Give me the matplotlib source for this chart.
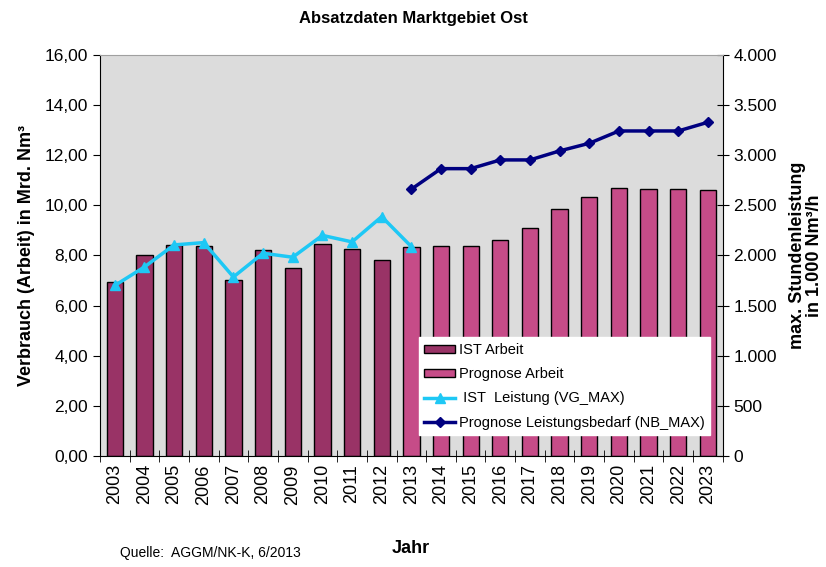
import numpy as np
import matplotlib.pyplot as plt
from matplotlib.ticker import FuncFormatter

plt.rcParams['font.family'] = ['Liberation Sans', 'DejaVu Sans']

years = [str(y) for y in range(2003, 2024)]
ist_arbeit = [6.92, 8.00, 8.43, 8.38, 7.02, 8.22, 7.48, 8.46, 8.27, 7.80]
prognose_arbeit = [8.34, 8.36, 8.36, 8.62, 9.10, 9.84, 10.35, 10.71, 10.67, 10.67, 10.63]
ist_leistung = [1700, 1885, 2105, 2128, 1785, 2022, 1982, 2200, 2135, 2387, 2088]
prognose_leistung = [2661, 2866, 2866, 2953, 2953, 3043, 3119, 3242, 3242, 3242, 3329]

x = np.arange(len(years))
x_ist = x[:len(ist_arbeit)]
x_prog = x[len(ist_arbeit):]
x_ist_l = x[:len(ist_leistung)]
x_prog_l = x[len(x) - len(prognose_leistung):]

fig = plt.figure(figsize=(8.26, 5.67), dpi=100)
ax = fig.add_axes([0.121, 0.196, 0.754, 0.707])
ax.set_facecolor('#DCDCDC')

b1 = ax.bar(x_ist, ist_arbeit, width=0.55, color='#993366', edgecolor='black', linewidth=1, zorder=2)
b2 = ax.bar(x_prog, prognose_arbeit, width=0.55, color='#C64C88', edgecolor='black', linewidth=1, zorder=2)
ax.set_ylim(0, 16)
ax.set_xlim(-0.5, len(years) - 0.5)
ax.set_yticks(np.arange(0, 17, 2))
ax.yaxis.set_major_formatter(FuncFormatter(lambda v, p: f"{v:.2f}".replace('.', ',')))
ax.set_xticks(x)
ax.set_xticklabels(years, rotation=90, fontsize=13)
ax.set_xticks(np.arange(-0.5, len(years), 1), minor=True)
ax.tick_params(axis='x', which='major', length=0, pad=6)
ax.tick_params(axis='x', which='minor', length=8, direction='inout')
ax.tick_params(axis='y', labelsize=12.5, length=5, direction='out')
ax.set_ylabel('Verbrauch (Arbeit) in Mrd. Nm³', fontsize=13, fontweight='bold', labelpad=7)
for s in ['top', 'right']:
    ax.spines[s].set_visible(False)

ax2 = ax.twinx()
l1, = ax2.plot(x_ist_l, ist_leistung, color='#1EC8F5', linewidth=2.5, marker='^', markersize=7, zorder=3)
l2, = ax2.plot(x_prog_l, prognose_leistung, color='#000080', linewidth=2.5, marker='D', markersize=5, zorder=3)
ax2.set_ylim(0, 4000)
ax2.set_yticks(np.arange(0, 4001, 500))
ax2.yaxis.set_major_formatter(FuncFormatter(lambda v, p: f"{int(v):,}".replace(',', '.')))
ax2.tick_params(axis='y', labelsize=12.5, length=8, direction='inout')
ax2.set_ylabel('max. Stundenleistung\nin 1.000 Nm³/h', fontsize=13, fontweight='bold',
               labelpad=9, linespacing=1.0)
ax2.spines['top'].set_color('#A0A0A0')
for s in ['left', 'bottom']:
    ax2.spines[s].set_visible(False)

leg = ax2.legend([b1, b2, l1, l2],
                 ['IST Arbeit', 'Prognose Arbeit', ' IST  Leistung (VG_MAX)', 'Prognose Leistungsbedarf (NB_MAX)'],
                 loc='lower left', bbox_to_anchor=(0.5, 0.033), fontsize=10.5,
                 frameon=True, fancybox=False, framealpha=1, edgecolor='white',
                 handlelength=2.1, handleheight=0.5, handletextpad=0.25, borderpad=0.4,
                 labelspacing=0.7)
leg.set_zorder(5)

fig.text(0.5, 0.968, 'Absatzdaten Marktgebiet Ost', ha='center', va='center', fontsize=12, fontweight='bold')
fig.text(0.497, 0.033, 'Jahr', ha='center', va='center', fontsize=13, fontweight='bold')
fig.text(0.145, 0.024, 'Quelle:  AGGM/NK-K, 6/2013', ha='left', va='center', fontsize=10)

fig.savefig('out.png', dpi=100)
